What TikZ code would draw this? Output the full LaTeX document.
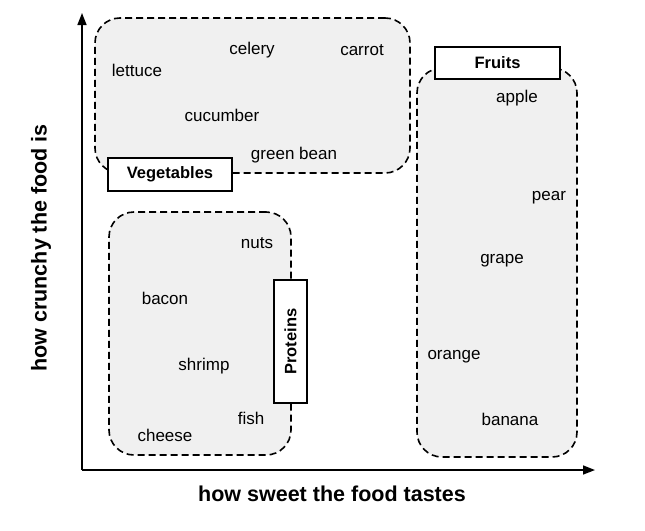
\documentclass[tikz,border=0pt]{standalone}
\usepackage{fontspec}
\setmainfont{Liberation Sans}
\usetikzlibrary{arrows.meta}
\begin{document}
\begin{tikzpicture}[x=1pt,y=-1pt,
  group/.style={draw=black, dash pattern=on 7pt off 4pt, line width=1.6pt, fill=black!6, rounded corners=25pt, inner sep=0pt},
  tag/.style={draw=black, line width=1.6pt, fill=white, inner sep=0pt, font=\fontsize{16.5}{18}\selectfont\bfseries},
  item/.style={font=\fontsize{17}{19}\selectfont, inner sep=0pt},
  axis/.style={line width=1.6pt, -{Triangle[length=12pt,width=9pt]}},
  axlabel/.style={font=\fontsize{21.5}{24}\selectfont\bfseries, inner sep=0pt}]
\useasboundingbox (0,0) rectangle (645,530);
% groups
\node[group, minimum width=315pt, minimum height=155pt] (veg) at (252.5,95.5) {};
\node[group, minimum width=160pt, minimum height=389pt] (fru) at (497,262.5) {};
\node[group, minimum width=182pt, minimum height=243pt] (pro) at (200,333.5) {};
% tags
\node[tag, minimum width=124pt, minimum height=33pt] (vegtag) at (170,174.5) {Vegetables};
\node[tag, minimum width=125pt, minimum height=32pt] (frutag) at (497.5,63) {Fruits};
\node[tag, rotate=90, minimum width=123pt, minimum height=33pt] (protag) at (290.5,341.5) {Proteins};
% vegetables
\node[item] (lettuce) at (137,70) {lettuce};
\node[item] (celery) at (252,50) {celery};
\node[item] (carrot) at (362,50) {carrot};
\node[item] (cucumber) at (222,115) {cucumber};
\node[item] (greenbean) at (294,155) {green bean};
% fruits
\node[item] (apple) at (517,98) {apple};
\node[item] (pear) at (549,198) {pear};
\node[item] (grape) at (502,261) {grape};
\node[item] (orange) at (454,357) {orange};
\node[item] (banana) at (510,419) {banana};
% proteins
\node[item] (nuts) at (257,243) {nuts};
\node[item] (bacon) at (165,298) {bacon};
\node[item] (shrimp) at (204,366) {shrimp};
\node[item] (fish) at (251,418) {fish};
\node[item] (cheese) at (165,435) {cheese};
% axes
\coordinate (o) at (82,470);
\coordinate (ytip) at (82,13);
\coordinate (xtip) at (595,470);
\draw[axis] (o) -- (ytip);
\draw[axis] (o) -- (xtip);
\node[axlabel] (xlab) at (332,494) {how sweet the food tastes};
\node[axlabel, rotate=90] (ylab) at (41,248) {how crunchy the food is};
\end{tikzpicture}
\end{document}
